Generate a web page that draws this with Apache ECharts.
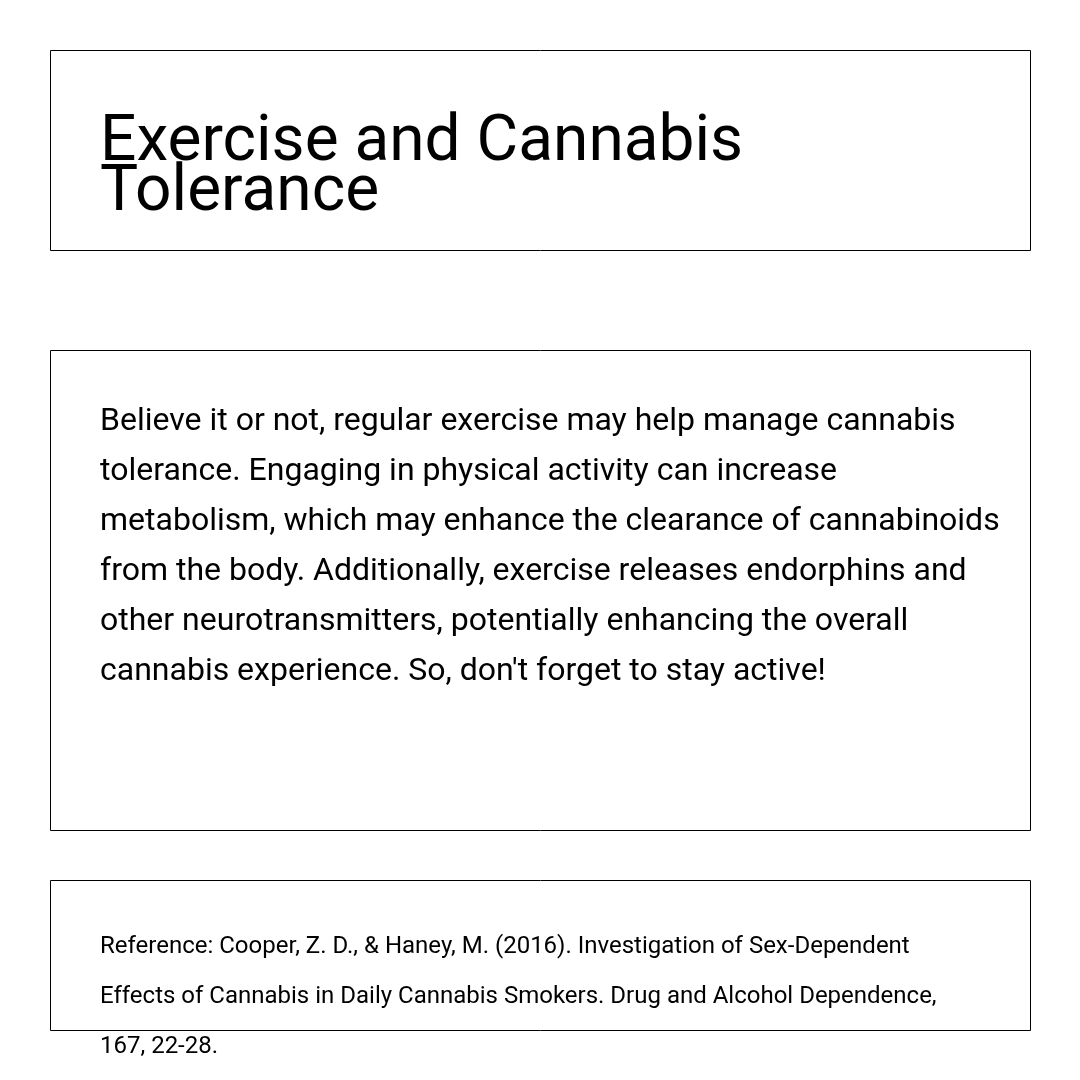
<!DOCTYPE html>
<html>
<head>
<meta charset="utf-8">
<script src="https://cdn.jsdelivr.net/npm/echarts@6/dist/echarts.min.js"></script>
<style>
  html, body { margin: 0; padding: 0; background: #fff; }
  #card { width: 1080px; height: 1080px; }
</style>
</head>
<body>
<div id="card"></div>
<script>
const titleLines = ['Exercise and Cannabis', 'Tolerance'];
const bodyLines = [
    'Believe it or not, regular exercise may help manage cannabis',
    'tolerance. Engaging in physical activity can increase',
    'metabolism, which may enhance the clearance of cannabinoids',
    'from the body. Additionally, exercise releases endorphins and',
    'other neurotransmitters, potentially enhancing the overall',
    "cannabis experience. So, don't forget to stay active!"
];
const refLines = [
    'Reference: Cooper, Z. D., & Haney, M. (2016). Investigation of Sex-Dependent',
    'Effects of Cannabis in Daily Cannabis Smokers. Drug and Alcohol Dependence,',
    '167, 22-28.'
];

document.addEventListener('DOMContentLoaded', function () {
    const chart = echarts.init(document.getElementById('card'), null, { renderer: 'canvas' });
    const font = 'Roboto, "Noto Sans", sans-serif';

    // panel frames: [x, y, width, height]
    const panels = [
        [50, 50, 980, 200],
        [50, 350, 980, 480],
        [50, 880, 980, 150]
    ];

    // text blocks: lines, first line centre y, size, line step
    const blocks = [
        { lines: titleLines, y: 143.5, size: 64, step: 50 },
        { lines: bodyLines, y: 421.7, size: 32, step: 50 },
        { lines: refLines, y: 946.8, size: 24, step: 50 }
    ];

    const elements = [];
    panels.forEach(function (p) {
        elements.push({
            type: 'rect',
            shape: { x: p[0] + 0.5, y: p[1] + 0.5, width: p[2], height: p[3] },
            style: { fill: 'none', stroke: '#000', lineWidth: 1 },
            z: 1
        });
    });
    blocks.forEach(function (b) {
        b.lines.forEach(function (line, i) {
            elements.push({
                type: 'text',
                x: 100,
                y: b.y + i * b.step,
                style: {
                    text: line,
                    fill: '#000',
                    font: 'normal ' + b.size + 'px ' + font,
                    textAlign: 'left',
                    textVerticalAlign: 'middle'
                },
                z: 2
            });
        });
    });

    chart.setOption({
        animation: false,
        backgroundColor: '#fff',
        graphic: { elements: elements }
    });

    window.addEventListener('resize', function () {
        chart.resize();
    });
});
</script>
</body>
</html>
